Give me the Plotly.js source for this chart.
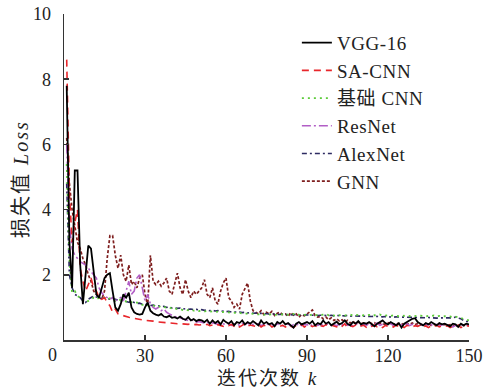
<!DOCTYPE html>
<html>
<head>
<meta charset="utf-8">
<script src="https://cdn.plot.ly/plotly-3.0.1.min.js"></script>
<style>
html,body{margin:0;padding:0;background:#fff;}
#chart{width:486px;height:391px;}
#chart .annotation-text{letter-spacing:2px;}
#chart .legendtext{letter-spacing:0.6px;}
</style>
</head>
<body>
<div id="chart"></div>
<script>
// Iteration index k
const iterations = [
  1,2,3,4,5,6,7,8,9,10,11,12,13,14,15,16,17,18,19,20,
  21,22,23,24,25,26,27,28,29,30,31,32,33,34,35,36,37,38,39,40,
  41,42,43,44,45,46,47,48,49,50,51,52,53,54,55,56,57,58,59,60,
  61,62,63,64,65,66,67,68,69,70,71,72,73,74,75,76,77,78,79,80,
  81,82,83,84,85,86,87,88,89,90,91,92,93,94,95,96,97,98,99,100,
  101,102,103,104,105,106,107,108,109,110,111,112,113,114,115,116,117,118,119,120,
  121,122,123,124,125,126,127,128,129,130,131,132,133,134,135,136,137,138,139,140,
  141,142,143,144,145,146,147,148,149,150
];

const seriesNames = ["VGG-16", "SA-CNN", "基础 CNN", "ResNet", "AlexNet", "GNN"];
const xTitle = "迭代次数 <i>k</i>";
const yTitle = "损失值 <i>Loss</i>";

const lossVGG16 = [
  7.8,3.0,1.6,5.2,5.2,2.3,1.1,2.0,2.9,2.8,
  2.1,1.4,1.3,1.6,1.9,2.0,2.05,1.5,1.0,0.9,
  1.1,1.4,1.3,1.45,1.0,0.85,0.8,0.78,0.8,1.0,
  1.15,0.9,0.82,0.78,0.75,0.8,0.72,0.7,0.74,0.68,
  0.7,0.66,0.72,0.65,0.62,0.7,0.6,0.64,0.58,0.62,
  0.6,0.55,0.62,0.5,0.6,0.52,0.58,0.48,0.62,0.55,
  0.5,0.58,0.45,0.55,0.52,0.6,0.48,0.55,0.5,0.58,
  0.52,0.45,0.6,0.5,0.55,0.48,0.52,0.42,0.55,0.5,
  0.58,0.48,0.52,0.45,0.38,0.5,0.55,0.48,0.52,0.55,
  0.5,0.58,0.45,0.52,0.48,0.6,0.5,0.55,0.45,0.52,
  0.56,0.48,0.52,0.6,0.5,0.45,0.55,0.5,0.58,0.48,
  0.52,0.5,0.55,0.48,0.42,0.5,0.55,0.6,0.52,0.48,
  0.55,0.5,0.45,0.52,0.38,0.5,0.55,0.6,0.65,0.67,
  0.55,0.5,0.45,0.52,0.48,0.55,0.5,0.45,0.52,0.48,
  0.5,0.45,0.42,0.5,0.48,0.4,0.5,0.45,0.5,0.48
];

const lossSACNN = [
  8.6,4.5,3.0,3.6,4.0,2.2,1.8,1.5,1.7,1.9,
  1.6,1.5,1.3,1.25,1.3,1.15,1.05,0.85,0.95,0.8,
  0.77,0.74,0.72,0.7,0.68,0.67,0.65,0.64,0.62,0.6,
  0.6,0.58,0.58,0.56,0.55,0.55,0.54,0.53,0.52,0.52,
  0.51,0.5,0.5,0.49,0.48,0.48,0.5,0.47,0.48,0.46,
  0.47,0.45,0.48,0.44,0.46,0.43,0.47,0.45,0.42,0.46,
  0.44,0.48,0.42,0.46,0.4,0.45,0.5,0.42,0.46,0.44,
  0.42,0.47,0.4,0.45,0.43,0.48,0.4,0.44,0.46,0.42,
  0.45,0.4,0.47,0.43,0.38,0.45,0.42,0.48,0.4,0.44,
  0.46,0.41,0.45,0.38,0.44,0.42,0.47,0.4,0.45,0.43,
  0.4,0.46,0.42,0.5,0.38,0.44,0.41,0.46,0.4,0.43,
  0.45,0.39,0.44,0.42,0.46,0.4,0.43,0.38,0.45,0.42,
  0.44,0.4,0.46,0.41,0.43,0.38,0.45,0.42,0.4,0.44,
  0.42,0.46,0.4,0.43,0.38,0.44,0.41,0.45,0.4,0.43,
  0.41,0.44,0.38,0.42,0.4,0.45,0.38,0.42,0.44,0.42
];

const lossBaseCNN = [
  5.4,2.5,1.45,1.5,1.35,1.3,1.2,1.15,1.2,1.25,
  1.3,1.25,1.3,1.28,1.3,1.25,1.28,1.22,1.2,1.25,
  1.22,1.2,1.18,1.2,1.15,1.12,1.15,1.1,1.08,1.1,
  1.06,1.04,1.06,1.02,1.04,1.0,1.02,0.98,1.0,0.96,
  0.98,0.94,0.95,0.92,0.94,0.91,0.93,0.9,0.91,0.89,
  0.9,0.88,0.89,0.87,0.88,0.86,0.87,0.85,0.86,0.84,
  0.85,0.83,0.84,0.82,0.83,0.81,0.82,0.8,0.81,0.8,
  0.8,0.78,0.79,0.77,0.8,0.78,0.79,0.77,0.78,0.77,
  0.79,0.76,0.78,0.77,0.8,0.76,0.78,0.75,0.77,0.78,
  0.76,0.78,0.75,0.77,0.76,0.78,0.8,0.76,0.77,0.75,
  0.78,0.76,0.77,0.75,0.76,0.78,0.75,0.77,0.76,0.74,
  0.76,0.75,0.77,0.74,0.76,0.75,0.78,0.74,0.75,0.76,
  0.74,0.76,0.75,0.73,0.75,0.74,0.76,0.73,0.75,0.74,
  0.73,0.75,0.74,0.72,0.74,0.73,0.75,0.72,0.74,0.72,
  0.73,0.71,0.72,0.7,0.72,0.7,0.68,0.65,0.62,0.6
];

const lossResNet = [
  6.0,3.5,2.8,2.6,2.5,2.4,2.35,2.3,2.2,2.1,
  2.0,1.9,1.6,1.45,1.35,1.3,1.25,1.3,1.2,1.25,
  1.3,1.2,1.5,1.8,1.4,1.5,1.9,2.0,1.6,1.2,
  1.4,1.1,1.0,0.95,1.0,0.9,0.95,0.85,0.8,0.75,
  0.72,0.7,0.68,0.65,0.62,0.6,0.62,0.58,0.55,0.57,
  0.55,0.52,0.55,0.5,0.53,0.5,0.48,0.52,0.5,0.47,
  0.5,0.45,0.48,0.52,0.44,0.5,0.47,0.53,0.45,0.48,
  0.46,0.5,0.44,0.49,0.52,0.45,0.48,0.43,0.5,0.46,
  0.44,0.48,0.5,0.42,0.47,0.45,0.52,0.44,0.48,0.46,
  0.5,0.43,0.47,0.45,0.49,0.44,0.48,0.5,0.45,0.47,
  0.44,0.49,0.46,0.52,0.45,0.48,0.43,0.5,0.46,0.44,
  0.48,0.45,0.5,0.43,0.47,0.52,0.45,0.48,0.44,0.46,
  0.5,0.45,0.48,0.43,0.47,0.45,0.5,0.44,0.48,0.46,
  0.44,0.49,0.45,0.5,0.43,0.47,0.45,0.48,0.44,0.46,
  0.48,0.43,0.46,0.4,0.45,0.42,0.47,0.44,0.46,0.45
];

const lossAlexNet = [
  4.8,2.0,1.6,1.4,1.35,1.3,1.2,1.15,1.25,1.3,
  1.35,1.32,1.3,1.28,1.3,1.27,1.25,1.28,1.24,1.22,
  1.2,1.22,1.18,1.16,1.18,1.14,1.12,1.13,1.1,1.1,
  1.08,1.06,1.07,1.04,1.05,1.02,1.03,1.0,1.01,0.98,
  0.99,0.97,0.98,0.95,0.96,0.94,0.95,0.93,0.94,0.92,
  0.93,0.91,0.92,0.9,0.91,0.89,0.9,0.88,0.89,0.87,
  0.88,0.86,0.87,0.85,0.86,0.84,0.85,0.83,0.84,0.82,
  0.83,0.81,0.82,0.8,0.81,0.79,0.8,0.79,0.8,0.78,
  0.79,0.78,0.79,0.77,0.78,0.77,0.78,0.76,0.77,0.76,
  0.77,0.76,0.77,0.75,0.76,0.75,0.76,0.75,0.76,0.74,
  0.75,0.74,0.75,0.74,0.75,0.73,0.74,0.73,0.74,0.73,
  0.73,0.72,0.73,0.72,0.73,0.72,0.72,0.71,0.72,0.71,
  0.71,0.7,0.71,0.7,0.71,0.7,0.7,0.69,0.7,0.69,
  0.69,0.68,0.69,0.68,0.69,0.68,0.68,0.67,0.68,0.68,
  0.67,0.68,0.67,0.68,0.7,0.68,0.65,0.6,0.57,0.55
];

const lossGNN = [
  6.2,4.8,4.0,3.5,3.0,2.8,2.5,2.3,2.0,1.8,
  1.5,1.4,1.3,1.25,1.5,2.5,3.2,3.2,2.6,2.2,
  2.6,2.0,1.8,2.3,1.7,1.8,1.6,1.9,2.0,1.4,
  1.05,2.6,1.8,1.7,1.8,1.65,1.75,1.9,1.5,1.4,
  1.7,2.05,1.6,1.4,1.85,1.5,1.3,1.5,1.4,1.5,
  1.6,1.85,1.4,1.3,1.6,1.2,1.1,1.5,1.75,1.9,
  1.3,1.2,1.0,1.1,0.95,1.4,1.6,1.75,1.2,0.9,
  0.85,0.8,0.9,0.78,0.85,0.8,0.88,0.75,0.82,0.85,
  0.78,0.8,0.72,0.84,0.76,0.8,0.7,0.78,0.74,0.8,
  0.85,0.92,0.75,0.7,0.72,0.65,0.7,0.62,0.68,0.6,
  0.65,0.58,0.62,0.55,0.6,0.52,0.58,0.5,0.55,0.5,
  0.52,0.48,0.55,0.5,0.53,0.47,0.52,0.5,0.48,0.53,
  0.5,0.47,0.52,0.49,0.51,0.46,0.5,0.48,0.52,0.47,
  0.5,0.46,0.49,0.47,0.5,0.45,0.48,0.46,0.5,0.47,
  0.48,0.45,0.47,0.44,0.46,0.45,0.48,0.44,0.46,0.45
];

const xTickVals = [30, 60, 90, 120, 150];
const yTickVals = [2, 4, 6, 8, 10];
const cornerLabel = "0";

const FONT = "Liberation Serif, Noto Sans CJK SC, serif";
const TXT = "#222222";

const styles = [
  {color: "#000000", dash: "solid", width: 1.8},
  {color: "#e8262b", dash: "7px,5px", width: 1.6},
  {color: "#5ccb3a", dash: "2px,4px", width: 1.8},
  {color: "#b25ec6", dash: "9px,3px,2px,3px", width: 1.6},
  {color: "#2d2b62", dash: "5px,3px,2px,3px", width: 1.6},
  {color: "#7e1e1e", dash: "3px,2px", width: 1.7}
];

const values = [lossVGG16, lossSACNN, lossBaseCNN, lossResNet, lossAlexNet, lossGNN];
const drawOrder = [5, 4, 3, 2, 1, 0];

const traces = [];
for (const i of [0,1,2,3,4,5]) {
  traces.push({
    x: iterations,
    y: values[i],
    name: seriesNames[i],
    type: "scatter",
    mode: "lines",
    legendgroup: "g" + i,
    legendrank: i + 1,
    line: {color: styles[i].color, dash: styles[i].dash, width: styles[i].width}
  });
}
const orderedTraces = drawOrder.map(i => traces[i]);

const axisCommon = {
  ticks: "inside",
  ticklen: 5,
  tickwidth: 1.5,
  tickcolor: "#333333",
  showline: true,
  linecolor: "#333333",
  linewidth: 1.5,
  showgrid: false,
  zeroline: false,
  automargin: false,
  tickfont: {family: FONT, size: 18, color: TXT}
};

const layout = {
  width: 486,
  height: 391,
  margin: {l: 64, r: 17, t: 14, b: 51},
  paper_bgcolor: "#ffffff",
  plot_bgcolor: "#ffffff",
  font: {family: FONT, size: 18, color: TXT},
  showlegend: true,
  legend: {
    x: 0.575, y: 0.97, xanchor: "left", yanchor: "top",
    bgcolor: "rgba(255,255,255,0)",
    font: {family: FONT, size: 19, color: TXT},
    traceorder: "grouped",
    tracegroupgap: 0,
    itemwidth: 30
  },
  xaxis: Object.assign({}, axisCommon, {
    range: [0, 150],
    tickvals: xTickVals,
    ticklabelstandoff: -1
  }),
  yaxis: Object.assign({}, axisCommon, {
    range: [0, 10],
    tickvals: yTickVals,
    ticklabelstandoff: 8
  }),
  annotations: [
    {text: cornerLabel, xref: "paper", yref: "paper", x: -0.027, y: -0.046,
     xanchor: "center", yanchor: "middle", showarrow: false,
     font: {family: FONT, size: 18, color: TXT}},
    {text: xTitle, xref: "paper", yref: "paper", x: 0.503, y: -0.1534,
     xanchor: "center", yanchor: "bottom", showarrow: false, borderpad: 0,
     font: {family: FONT, size: 19, color: TXT}},
    {text: yTitle, xref: "paper", yref: "paper", x: -0.108, y: 0.495,
     xanchor: "center", yanchor: "middle", showarrow: false, textangle: -90,
     font: {family: FONT, size: 20, color: TXT}}
  ]
};

Plotly.newPlot("chart", orderedTraces, layout, {displayModeBar: false, staticPlot: true});
</script>
</body>
</html>
